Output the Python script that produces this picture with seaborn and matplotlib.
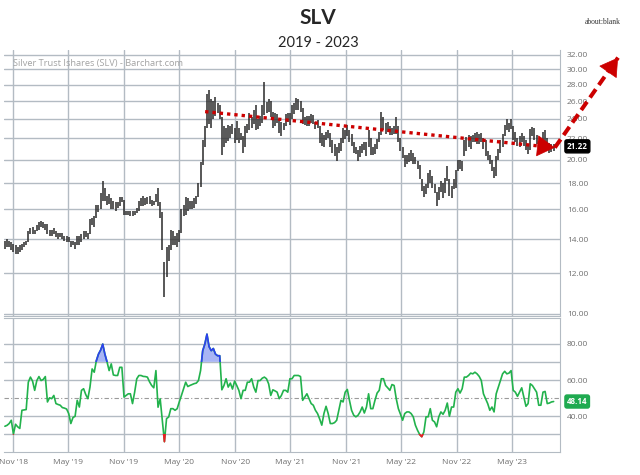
import numpy as np
import pandas as pd
import matplotlib
matplotlib.use('Agg')
import matplotlib.pyplot as plt
import matplotlib.dates as mdates
from matplotlib.patches import Rectangle
from matplotlib.ticker import FixedLocator, NullLocator, FormatStrFormatter
import seaborn as sns

# weekly bars (Fridays), first one in early Oct 2018
first_week = '2018-10-05'

# weekly highs / lows, one row per quarter
highs = [
    13.9, 14.0, 13.9, 13.8, 13.7, 13.6, 13.5, 13.6, 13.7, 13.8, 13.9, 14.5, 14.7,
    14.8, 14.6, 14.9, 15.1, 15.2, 15.1, 15.0, 15.0, 14.6, 14.6, 14.7, 14.5, 14.4,
    14.4, 14.4, 14.2, 14.2, 14.1, 13.9, 13.9, 13.8, 14.2, 14.2, 14.3, 14.5, 14.5,
    14.4, 15.3, 15.4, 15.5, 16.3, 16.3, 17.2, 18.2, 17.6, 17.0, 17.1, 16.8, 16.6,
    16.5, 16.5, 16.9, 16.9, 16.7, 15.9, 15.9, 15.9, 15.9, 15.9, 16.1, 16.6, 16.8,
    17.0, 16.8, 16.9, 17.0, 16.7, 16.6, 17.1, 17.6, 16.5, 15.8, 12.6, 13.5, 13.6,
    14.6, 14.5, 14.2, 14.4, 14.6, 16.0, 16.3, 16.9, 16.8, 16.6, 16.6, 16.8, 17.0,
    18.0, 19.8, 21.8, 23.2, 26.8, 27.3, 26.3, 26.0, 26.5, 25.8, 25.6, 24.2, 23.2,
    23.0, 23.4, 23.2, 23.5, 23.0, 23.8, 23.0, 22.5, 22.2, 23.3, 23.5, 24.6, 24.2,
    25.0, 25.6, 24.0, 24.3, 25.5, 28.3, 25.9, 26.2, 26.0, 24.8, 24.6, 24.5, 24.0,
    23.7, 23.6, 24.5, 24.7, 24.6, 25.5, 25.8, 26.4, 26.2, 26.0, 25.2, 24.2, 24.3,
    24.3, 24.5, 24.4, 23.7, 23.9, 23.3, 22.5, 22.3, 22.6, 22.8, 22.5, 21.8, 21.4,
    21.2, 21.5, 22.0, 23.0, 22.8, 23.4, 22.8, 22.4, 21.6, 21.2, 20.9, 21.3, 21.4, 21.6,
    21.6, 22.8, 22.0, 21.2, 21.4, 21.9, 22.6, 24.8, 24.2, 23.6, 23.7, 23.3, 23.0,
    23.3, 24.2, 23.2, 22.0, 21.2, 20.4, 20.4, 20.6, 20.9, 20.6, 20.2, 19.9, 19.5,
    18.3, 17.8, 17.9, 18.8, 19.1, 18.6, 17.9, 17.3, 17.7, 18.2, 18.0, 18.4, 19.4,
    18.3, 17.8, 18.3, 19.1, 20.0, 20.0, 19.9, 21.8, 22.1, 22.3, 22.2, 22.3, 22.5,
    22.6, 22.4, 22.5, 22.0, 21.8, 20.8, 20.4, 20.0, 19.3, 20.3, 21.0, 21.8, 22.4,
    23.4, 24.0, 23.6, 24.0, 23.3, 22.6, 22.0, 22.2, 22.5, 22.2, 21.8, 21.3, 22.9,
    23.1, 23.0, 22.3, 21.6, 21.5, 22.6, 22.8, 22.0, 21.5, 21.4, 21.4,
]
lows = [
    13.4, 13.5, 13.5, 13.3, 13.2, 13.1, 13.1, 13.2, 13.3, 13.5, 13.6, 13.8, 14.3,
    14.3, 14.3, 14.5, 14.6, 14.8, 14.7, 14.6, 14.3, 14.2, 14.2, 14.3, 14.1, 14.0,
    14.1, 14.0, 13.9, 13.8, 13.8, 13.5, 13.6, 13.4, 13.6, 13.6, 13.8, 14.0, 14.1,
    14.0, 14.3, 14.9, 14.8, 15.4, 15.8, 16.0, 16.6, 16.6, 16.3, 16.4, 16.0, 16.0,
    15.9, 16.1, 16.2, 16.5, 15.6, 15.6, 15.6, 15.5, 15.5, 15.6, 15.7, 15.9, 16.2,
    16.2, 16.3, 16.4, 16.4, 16.2, 16.3, 16.5, 16.2, 15.4, 13.3, 10.8, 11.8, 12.7,
    13.3, 13.6, 13.6, 13.5, 13.8, 14.4, 15.5, 15.6, 15.9, 16.0, 16.0, 16.1, 16.4,
    16.9, 17.7, 19.5, 21.2, 23.0, 23.5, 23.0, 24.0, 24.3, 24.6, 24.0, 20.4, 21.2,
    21.5, 21.7, 22.0, 22.4, 21.5, 21.8, 21.5, 21.8, 20.6, 21.2, 22.5, 22.8, 23.0,
    23.5, 22.8, 22.9, 23.3, 23.6, 24.4, 24.6, 24.8, 24.2, 23.0, 23.3, 23.6, 22.5,
    22.2, 22.8, 23.2, 23.7, 23.4, 24.0, 24.5, 25.0, 25.0, 24.8, 23.5, 23.4, 23.3,
    23.3, 23.6, 23.5, 22.9, 23.0, 21.5, 21.3, 21.2, 21.8, 22.0, 21.2, 20.6, 20.3,
    19.9, 20.6, 20.8, 21.5, 21.9, 22.2, 21.6, 21.3, 20.6, 20.5, 19.9, 20.2, 20.6, 20.9,
    20.3, 21.2, 20.4, 20.4, 20.5, 21.0, 21.6, 22.3, 22.8, 22.4, 22.6, 22.3, 22.3,
    22.4, 22.4, 21.6, 20.8, 20.1, 19.3, 19.6, 19.8, 19.9, 19.6, 19.6, 19.2, 18.3,
    17.4, 16.9, 17.1, 17.6, 18.0, 17.6, 17.2, 16.2, 16.7, 17.3, 16.8, 17.2, 18.2,
    17.0, 16.8, 17.5, 17.6, 19.0, 19.2, 19.0, 20.3, 20.8, 21.2, 21.0, 21.6, 21.6,
    21.4, 21.4, 21.6, 21.0, 20.3, 20.0, 19.6, 19.0, 18.4, 18.6, 20.0, 20.6, 21.2,
    22.2, 22.8, 22.6, 22.9, 21.8, 21.6, 21.3, 21.2, 21.6, 21.3, 20.9, 20.5, 20.9,
    22.2, 21.8, 21.4, 20.8, 20.8, 21.2, 21.4, 20.9, 20.6, 20.7, 20.8,
]
# weekly RSI(14)
rsi = [
    34.5, 35.0, 36.0, 37.8, 30.2, 35.6, 34.2, 33.3, 43.3, 43.5, 43.7, 58.8, 61.6,
    59.4, 54.3, 59.7, 61.9, 59.7, 60.3, 61.9, 47.9, 50.2, 49.7, 51.5, 47.0, 46.5,
    46.1, 44.8, 44.5, 44.0, 41.5, 36.0, 39.3, 40.0, 48.8, 45.1, 54.3, 55.2, 52.0,
    49.7, 56.1, 66.1, 64.3, 70.7, 74.3, 76.5, 79.8, 74.3, 70.1, 65.2, 68.9, 62.8,
    62.5, 62.5, 67.0, 67.0, 50.6, 51.5, 52.4, 52.4, 47.0, 53.3, 60.7, 62.5, 62.5,
    62.0, 61.9, 61.6, 59.0, 57.0, 55.7, 65.2, 45.0, 49.7, 37.8, 26.0, 38.7, 39.6,
    44.2, 44.2, 43.3, 44.2, 48.0, 51.5, 55.2, 58.8, 56.4, 57.0, 57.5, 58.0, 58.3,
    59.7, 65.2, 76.2, 79.8, 85.3, 78.4, 76.2, 77.4, 74.3, 73.4, 73.4, 54.6, 57.0,
    60.7, 56.1, 58.3, 55.0, 59.4, 57.0, 54.3, 49.7, 54.3, 54.3, 58.8, 58.8, 60.7,
    56.1, 53.3, 59.7, 59.7, 61.0, 61.6, 60.7, 57.9, 51.5, 54.6, 54.0, 53.3, 49.7,
    51.5, 54.3, 54.3, 53.3, 60.7, 60.7, 62.5, 62.5, 62.5, 61.9, 48.8, 50.6, 52.4,
    49.7, 47.0, 46.1, 43.3, 41.5, 38.5, 35.1, 41.5, 45.5, 41.5, 36.0, 36.0, 36.5,
    37.8, 43.3, 48.8, 47.9, 53.3, 54.8, 48.8, 43.3, 40.6, 39.7, 40.5, 42.4, 45.1, 41.8,
    45.1, 52.4, 44.2, 44.2, 48.8, 52.8, 54.3, 60.7, 60.7, 57.0, 55.7, 54.3, 57.5,
    57.0, 49.7, 44.2, 41.1, 37.8, 41.5, 42.4, 42.4, 41.5, 39.7, 35.1, 32.3, 30.0,
    28.7, 31.4, 39.7, 39.7, 44.2, 37.8, 36.9, 34.2, 39.7, 42.4, 41.1, 43.3, 47.3,
    40.0, 45.1, 45.1, 53.3, 55.2, 52.8, 55.2, 61.6, 61.6, 62.5, 63.8, 63.4, 64.3,
    63.4, 62.0, 59.7, 52.4, 49.7, 47.0, 43.3, 45.1, 42.4, 52.4, 56.1, 59.7, 63.4,
    64.8, 63.4, 63.8, 65.2, 54.3, 53.3, 51.0, 53.3, 55.7, 50.5, 45.5, 47.0, 57.9,
    57.0, 55.2, 53.3, 46.1, 46.1, 53.3, 53.7, 47.0, 47.3, 47.9, 48.14,
]
last_price = 21.22
last_rsi = 48.14

tick_dates = ['2018-11-01', '2019-05-01', '2019-11-01', '2020-05-01', '2020-11-01',
              '2021-05-01', '2021-11-01', '2022-05-01', '2022-11-01', '2023-05-01']
tick_labels = ["Nov '18", "May '19", "Nov '19", "May '20", "Nov '20",
               "May '21", "Nov '21", "May '22", "Nov '22", "May '23"]
price_ticks = [10, 12, 14, 16, 18, 20, 22, 24, 26, 28, 30, 32]
rsi_ticks = [40, 60, 80]
rsi_lines = [30, 70]

# hand drawn trend line and projection arrow (date, price)
trend_start = ('2020-07-25', 24.8)
trend_end = ('2023-09-19', 21.1)
proj_end = ('2024-04-14', 31.6)

sns.set_style('white')
plt.rcParams['font.family'] = ['Open Sans', 'DejaVu Sans']

grid_c = '#b3bbc3'
lab_c = '#6f6f6f'
red = '#cc0000'

weeks = mdates.date2num(pd.date_range(first_week, periods=len(highs), freq='7D'))
rsi_weeks = mdates.date2num(pd.date_range(first_week, periods=len(rsi), freq='7D'))
rsi = np.array(rsi)
ticks = mdates.date2num(pd.to_datetime(tick_dates))
xmin = mdates.date2num(pd.Timestamp('2018-10-02'))
xmax = mdates.date2num(pd.Timestamp('2023-10-06'))

fig = plt.figure(figsize=(6.4, 4.75), dpi=100)
W, H = 640.0, 475.0


def box(l, t, r, b):
    return [l / W, 1 - b / H, (r - l) / W, (b - t) / H]


def dpt(p):
    # (date string, price) -> data coords
    return mdates.date2num(pd.Timestamp(p[0])), p[1]


def arrow_head(a, p_from, p_to, size=16):
    # solid filled head at p_to, pointing away from p_from
    x0, y0 = a.transData.transform(dpt(p_from))
    x1, y1 = a.transData.transform(dpt(p_to))
    d = np.hypot(x1 - x0, y1 - y0)
    back = (x1 - (x1 - x0) / d * size, y1 - (y1 - y0) / d * size)
    a.annotate('', xy=(x1, y1), xytext=back, xycoords='figure pixels',
               textcoords='figure pixels', annotation_clip=False,
               arrowprops=dict(arrowstyle='-|>,head_length=1.0,head_width=0.6',
                               mutation_scale=12, color=red, lw=0.5,
                               shrinkA=0, shrinkB=0), zorder=6)


ax = fig.add_axes(box(4, 50, 560, 316))
ax2 = fig.add_axes(box(4, 318, 560, 452))

# ---- price panel
ax.vlines(weeks, lows, highs, color='#2a2a2a', lw=1.1, zorder=3)
ax.set_yscale('log')
ax.set_ylim(9.91, 32.7)
ax.yaxis.set_major_locator(FixedLocator(price_ticks))
ax.yaxis.set_minor_locator(NullLocator())
ax.yaxis.set_major_formatter(FormatStrFormatter('%.2f'))
ax.yaxis.tick_right()

for a in (ax, ax2):
    a.set_xlim(xmin, xmax)
    a.set_xticks(ticks)
    a.grid(axis='x', color=grid_c, lw=1.0)
    a.tick_params(length=0, labelsize=6, colors=lab_c, pad=5)
    a.spines['left'].set_visible(False)
    for s in ('right', 'bottom', 'top'):
        a.spines[s].set_color(grid_c)
    a.set_xlabel('')
    a.set_ylabel('')
ax.spines['top'].set_visible(False)
ax.grid(axis='y', color=grid_c, lw=1.0)
ax.tick_params(labelbottom=False)
ax.set_axisbelow(True)

ax.text(0.016, 0.951, 'Silver Trust Ishares (SLV) - Barchart.com', transform=ax.transAxes,
        color='#a3a3a3', fontsize=6.7, va='center', ha='left')

ax.annotate('%.2f' % last_price, xy=(1, last_price), xycoords=('axes fraction', 'data'),
            xytext=(5, 0), textcoords='offset points', va='center', ha='left',
            fontsize=5.8, color='white', weight='bold',
            bbox=dict(boxstyle='round,pad=0.25', fc='black', ec='black'))

# red dotted trend line with a solid head
(tx0, ty0), (tx1, ty1), (px1, py1) = dpt(trend_start), dpt(trend_end), dpt(proj_end)
ax.plot([tx0, tx1], [ty0, ty1], color=red, lw=2.4, linestyle=(0, (1, 1.2)),
        dash_capstyle='butt', zorder=5)
arrow_head(ax, trend_start, trend_end)
# dashed projection arrow going off the chart
ax.plot([tx1, px1], [ty1, py1], color=red, lw=2.9, linestyle=(0, (2.5, 1.3)),
        dash_capstyle='butt', clip_on=False, zorder=5)
arrow_head(ax, trend_end, proj_end)

# ---- RSI panel
ax2.set_ylim(20.3, 94.2)
ax2.set_yticks(rsi_ticks)
ax2.yaxis.set_major_formatter(FormatStrFormatter('%.2f'))
ax2.yaxis.tick_right()
ax2.set_xticklabels(tick_labels)
ax2.grid(axis='y', color=grid_c, lw=1.0)
for v in rsi_lines:
    ax2.axhline(v, color=grid_c, lw=1.0, zorder=0.5)
ax2.axhline(50, color='#9a9a9a', lw=0.8, linestyle=(0, (4, 2, 1, 2)), zorder=0.5)
ax2.set_axisbelow(True)

sns.lineplot(x=rsi_weeks, y=rsi, ax=ax2, color='#22b24c', lw=1.2, zorder=3)

ax2.fill_between(rsi_weeks, 70, rsi, where=rsi >= 70, interpolate=True,
                 color='#a9b5f5', lw=0, zorder=2)
ax2.fill_between(rsi_weeks, 30, rsi, where=rsi <= 30, interpolate=True,
                 color='#f5a3a3', lw=0, zorder=2)
hi_line, = ax2.plot(rsi_weeks, rsi, color='#2d3ff0', lw=1.2, zorder=4)
hi_line.set_clip_path(Rectangle((xmin, 70), xmax - xmin, 40, transform=ax2.transData))
lo_line, = ax2.plot(rsi_weeks, rsi, color='#ee1c25', lw=1.2, zorder=4)
lo_line.set_clip_path(Rectangle((xmin, 0), xmax - xmin, 30, transform=ax2.transData))

ax2.annotate('%.2f' % last_rsi, xy=(1, last_rsi), xycoords=('axes fraction', 'data'),
             xytext=(5, 0), textcoords='offset points', va='center', ha='left',
             fontsize=5.8, color='white', weight='bold',
             bbox=dict(boxstyle='round,pad=0.25', fc='#1faa50', ec='#1faa50'))

# ---- titles
fig.text(318 / W, 1 - 18 / H, 'SLV', ha='center', va='center', fontsize=15,
         weight='bold', family=['Lato', 'DejaVu Sans'])
fig.text(318 / W, 1 - 43 / H, '2019 - 2023', ha='center', va='center', fontsize=10.5,
         family=['Lato', 'DejaVu Sans'])
fig.text(603 / W, 1 - 22 / H, 'about:blank', ha='center', va='center', fontsize=5.5,
         color='#333333', family=['Liberation Serif', 'DejaVu Serif'])

fig.savefig('out.png', dpi=100)
